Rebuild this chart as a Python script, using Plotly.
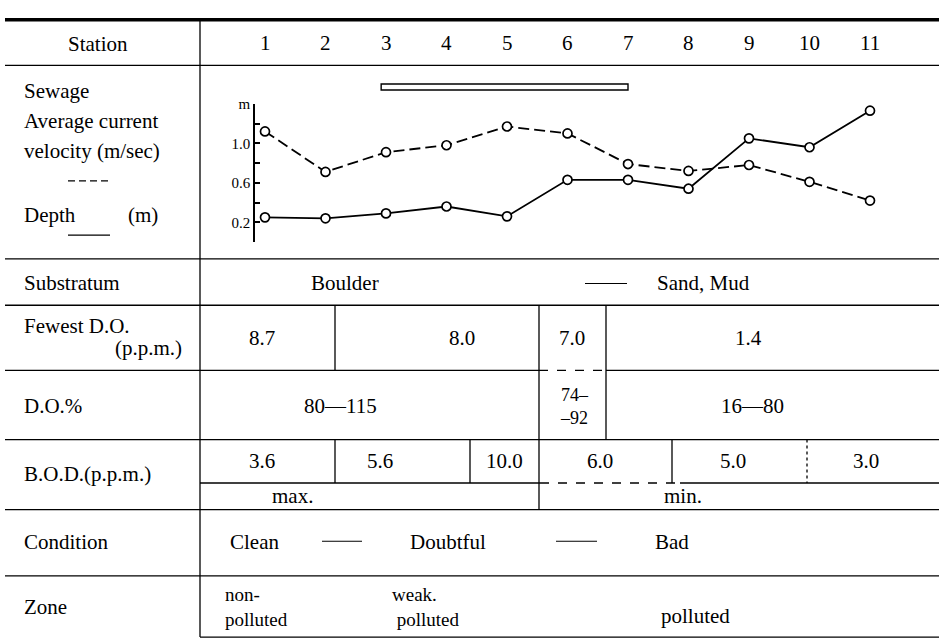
import plotly.graph_objects as go

W, H = 939, 641

# ---------------- data ----------------
stations = [1, 2, 3, 4, 5, 6, 7, 8, 9, 10, 11]
velocity = [1.12, 0.71, 0.91, 0.98, 1.17, 1.10, 0.79, 0.72, 0.78, 0.61, 0.42]   # m/sec (dashed)
depth = [0.25, 0.24, 0.29, 0.36, 0.26, 0.63, 0.63, 0.54, 1.05, 0.96, 1.33]      # m (solid)
sewage_from, sewage_to = 3, 7
y_tickvals = [0, 0.2, 0.4, 0.6, 0.8, 1.0, 1.2, 1.4]
y_ticktext = ["", "0.2", "", "0.6", "", "1.0", "", "m"]

row_labels = ["Station", "Substratum", "D.O.%", "B.O.D.(p.p.m.)", "Condition", "Zone"]
fewest_do = ["8.7", "8.0", "7.0", "1.4"]
do_pct = ["80—115", "16—80"]
bod = ["3.6", "5.6", "10.0", "6.0", "5.0", "3.0"]

FONT = "Liberation Serif, DejaVu Serif, serif"
FS = 21


def X(px):
    return px / W


def Y(py):
    return 1 - py / H


fig = go.Figure()

fig.add_trace(go.Scatter(
    x=stations, y=velocity, mode="lines+markers",
    line=dict(color="black", width=1.8, dash="11px,5px"),
    marker=dict(symbol="circle", size=9, color="white", line=dict(color="black", width=1.7)),
    showlegend=False, hoverinfo="skip"))
fig.add_trace(go.Scatter(
    x=stations, y=depth, mode="lines+markers",
    line=dict(color="black", width=1.8),
    marker=dict(symbol="circle", size=9, color="white", line=dict(color="black", width=1.7)),
    showlegend=False, hoverinfo="skip"))

shapes = []


def hline(y, x0, x1, w=1.3, dash="solid"):
    shapes.append(dict(type="line", xref="paper", yref="paper", x0=X(x0), x1=X(x1), y0=Y(y), y1=Y(y),
                       line=dict(color="black", width=w, dash=dash)))


def vline(x, y0, y1, w=1.3, dash="solid"):
    shapes.append(dict(type="line", xref="paper", yref="paper", x0=X(x), x1=X(x), y0=Y(y0), y1=Y(y1),
                       line=dict(color="black", width=w, dash=dash)))


# table rules
hline(12, 5, 939, w=3.5)
hline(58, 5, 939)
hline(254, 5, 939)
hline(301, 5, 939)
hline(367, 5, 539)
hline(367, 539, 606, dash="dash")
hline(367, 606, 939)
hline(437, 5, 939)
hline(481, 200, 540)
hline(481, 540, 680, dash="dash")
hline(481, 680, 939)
hline(508, 5, 939)
hline(575, 5, 939)
hline(637, 200, 939)

vline(200, 12, 637)
vline(335, 301, 367)
vline(335, 437, 481)
vline(470, 437, 481)
vline(539, 301, 508)
vline(606, 301, 437)
vline(672, 437, 481)
vline(807, 437, 481, dash="dot")

# legend marks in left column
hline(175, 68, 110, w=1.3, dash="7px,4px")
hline(230, 68, 110, w=1.3)
# dashes in Substratum / Condition rows
hline(279, 585, 627, w=1.2)
hline(540, 322, 362, w=1.2)
hline(540, 556, 597, w=1.2)

# sewage bar
shapes.append(dict(type="rect", xref="x", yref="paper", x0=sewage_from - 0.08, x1=sewage_to,
                   y0=Y(83), y1=Y(77), line=dict(color="black", width=1.4), fillcolor="white"))

ann = []


def txt(s, x, y, anchor="center", size=FS, xref="paper", align="center"):
    ann.append(dict(text=s, x=(X(x) if xref == "paper" else x), y=Y(y), xref=xref, yref="paper",
                    xanchor=anchor, yanchor="middle", showarrow=False, align=align,
                    font=dict(family=FONT, size=size, color="black")))


txt(row_labels[0], 98, 36)
for s in stations:
    txt(str(s), s, 35, xref="x")

txt("Sewage", 22, 84, "left")
txt("Average current", 22, 114, "left")
txt("velocity (m/sec)", 22, 145, "left")
txt("Depth", 22, 210, "left")
txt("(m)", 126, 210, "left")

txt(row_labels[1], 22, 278, "left")
txt("Boulder", 345, 278)
txt("Sand, Mud", 703, 278)

txt("Fewest D.O.", 22, 322, "left")
txt("(p.p.m.)", 184, 344, "right")
txt(fewest_do[0], 262, 334)
txt(fewest_do[1], 462, 334)
txt(fewest_do[2], 572, 334)
txt(fewest_do[3], 748, 334)

txt(row_labels[2], 22, 403, "left")
txt(do_pct[0], 340, 403)
txt("74–<br>–92", 558, 404, "left", size=18, align="left")
txt(do_pct[1], 752, 403)

txt(row_labels[3], 22, 472, "left")
for s, cx in zip(bod, [262, 380, 504, 600, 733, 866]):
    txt(s, cx, 459)
txt("max.", 292, 494)
txt("min.", 683, 494)

txt(row_labels[4], 22, 541, "left")
txt("Clean", 255, 541)
txt("Doubtful", 448, 541)
txt("Bad", 672, 541)

txt(row_labels[5], 22, 607, "left")
txt("non-<br>polluted", 223, 607, "left", size=19, align="left")
txt("weak.<br> polluted", 390, 607, "left", size=19, align="left")
txt("polluted", 695, 616)

px0 = 265
step = 60.5
xr = [1 + (0 - px0) / step, 1 + (W - px0) / step]

fig.update_layout(
    width=W, height=H, margin=dict(l=0, r=0, t=0, b=0),
    paper_bgcolor="white", plot_bgcolor="rgba(0,0,0,0)",
    shapes=shapes, annotations=ann, showlegend=False,
    xaxis=dict(visible=False, range=xr, domain=[0, 1], fixedrange=True),
    yaxis=dict(range=[0, 1.4], domain=[Y(237), Y(97)], anchor="free", position=X(254),
               showline=True, linecolor="black", linewidth=1.5,
               ticks="inside", ticklen=5, tickwidth=1.5, tickcolor="black",
               tickvals=y_tickvals, ticktext=y_ticktext, showgrid=False, zeroline=False,
               tickfont=dict(family=FONT, size=15, color="black"), fixedrange=True),
)

fig.write_html("out.html")
